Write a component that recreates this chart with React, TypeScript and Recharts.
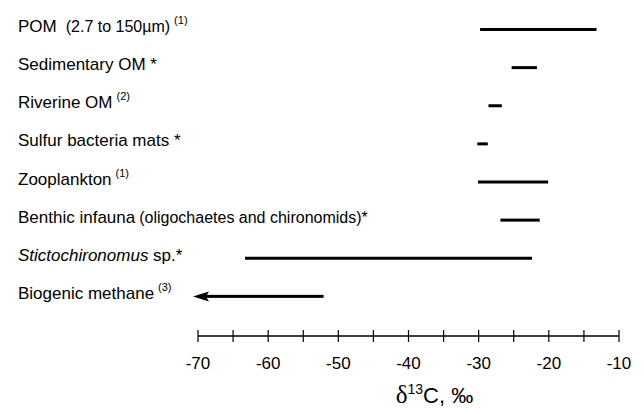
import React from 'react';
import { BarChart, Bar, XAxis, YAxis } from 'recharts';

// rows, top to bottom
const categories = [
  'POM',
  'Sedimentary OM',
  'Riverine OM',
  'Sulfur bacteria mats',
  'Zooplankton',
  'Benthic infauna',
  'Stictochironomus',
  'Biogenic methane',
];
const qualifiers = ['(2.7 to 150\u00b5m)', '', '', '', '', '(oligochaetes and chironomids)*', '', ''];
const suffixes = ['', ' *', '', ' *', '', '', ' sp.*', ''];
const references = ['(1)', '', '(2)', '', '(1)', '', '', '(3)'];
const genusNames = ['Stictochironomus'];

// d13C ranges, permil
const lowValues = [-29.8, -25.3, -28.6, -30.2, -30.1, -26.9, -63.3, -70];
const highValues = [-13.2, -21.7, -26.7, -28.7, -20.1, -21.3, -22.4, -52.1];
const openBelow = ['Biogenic methane'];

const xTicks = [-70, -65, -60, -55, -50, -45, -40, -35, -30, -25, -20, -15, -10];

const FONT = '"Liberation Sans", Arial, sans-serif';

const rows = categories.map((name, i) => ({
  name,
  range: [lowValues[i], highValues[i]],
}));

const RowLabel = (props: any) => {
  const { y, payload } = props;
  const i = categories.indexOf(payload.value);
  const italic = genusNames.includes(categories[i]);
  return (
    <text x={18} y={y + 3} fontFamily={FONT} fontSize={17} fill="#000" textAnchor="start">
      <tspan fontStyle={italic ? 'italic' : 'normal'}>{categories[i]}</tspan>
      {qualifiers[i] && (
        <tspan fontSize={16} dx={i === 0 ? 9 : 4}>
          {qualifiers[i]}
        </tspan>
      )}
      {suffixes[i] && <tspan style={{ whiteSpace: 'pre' }}>{suffixes[i]}</tspan>}
      {references[i] && (
        <tspan fontSize={11} dx={4} dy={-8}>
          {references[i]}
        </tspan>
      )}
    </text>
  );
};

const XTick = (props: any) => {
  const { x, y, payload } = props;
  const v = payload.value;
  return (
    <g>
      <line x1={x} x2={x} y1={y - 6} y2={y + 6} stroke="#000" strokeWidth={1.2} />
      {v % 10 === 0 && (
        <text x={x} y={y + 33} textAnchor="middle" fontFamily={FONT} fontSize={17} fill="#000">
          {v}
        </text>
      )}
    </g>
  );
};

const AxisTitle = (props: any) => {
  const vb = props.viewBox || { x: 198, y: 336, width: 421, height: 72 };
  const cx = vb.x + vb.width / 2 + 26;
  const cy = vb.y + 67;
  return (
    <text x={cx} y={cy} textAnchor="middle" fontFamily={FONT} fontSize={22} fill="#000">
      <tspan fontFamily='"Liberation Serif", serif' fontSize={25}>
        {'\u03b4'}
      </tspan>
      <tspan fontSize={14} dy={-9}>
        13
      </tspan>
      <tspan dy={9}>C, {'\u2030'}</tspan>
    </text>
  );
};

const RangeShape = (props: any) => {
  const { x, y, width, height, payload } = props;
  const cy = y + height / 2;
  const arrow = openBelow.includes(payload?.name);
  return (
    <g>
      <rect x={x} y={y} width={width} height={height} fill="#000" />
      {arrow && <polygon points={`${x - 5},${cy} ${x + 11},${cy - 5} ${x + 8},${cy} ${x + 11},${cy + 5}`} fill="#000" />}
    </g>
  );
};

export default function App() {
  return (
    <div style={{ position: 'absolute', left: 0, top: 0, width: 644, height: 408, overflow: 'hidden', background: '#fff' }}>
      <BarChart
        width={644}
        height={408}
        data={rows}
        layout="vertical"
        margin={{ top: 10, right: 25, left: 0, bottom: 0 }}
      >
        <XAxis
          type="number"
          domain={[-70, -10]}
          ticks={xTicks}
          interval={0}
          tickSize={0}
          tickMargin={0}
          tick={<XTick />}
          axisLine={{ stroke: '#000', strokeWidth: 1.3 }}
          height={72}
          label={<AxisTitle />}
        />
        <YAxis
          type="category"
          dataKey="name"
          width={198}
          axisLine={false}
          tickLine={false}
          tick={<RowLabel />}
          interval={0}
          padding={{ top: 0, bottom: 21 }}
        />
        <Bar dataKey="range" barSize={3} shape={<RangeShape />} isAnimationActive={false} />
      </BarChart>
    </div>
  );
}
